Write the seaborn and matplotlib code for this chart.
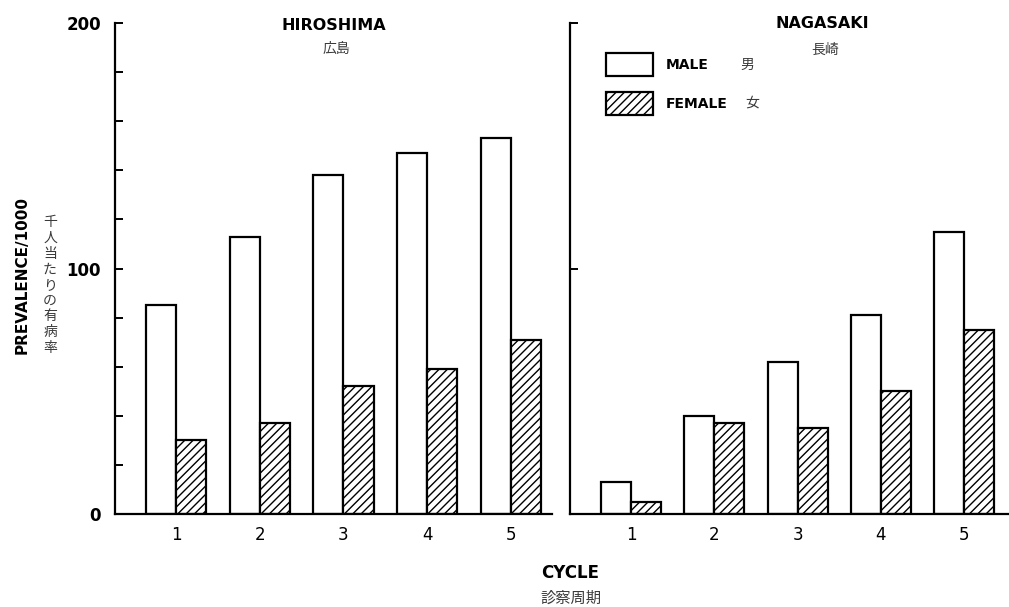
import matplotlib
matplotlib.use("Agg")
import matplotlib.pyplot as plt
import pandas as pd
import seaborn as sns
from matplotlib.patches import Patch
from matplotlib.ticker import MultipleLocator

# ---------------------------------------------------------------------------
# Data (prevalence per 1000)
# ---------------------------------------------------------------------------
cycles = ["1", "2", "3", "4", "5"]
sexes = ["MALE", "FEMALE"]
hiroshima_male = [85, 113, 138, 147, 153]
hiroshima_female = [30, 37, 52, 59, 71]
nagasaki_male = [13, 40, 62, 81, 115]
nagasaki_female = [5, 37, 35, 50, 75]

LATIN = "DejaVu Sans"
CJK = "Noto Sans CJK JP"
JP_COLOR = "#3a3a3a"

W, H = 1009, 607


def long_frame(male, female):
    rows = []
    for c, m, f in zip(cycles, male, female):
        rows.append({"cycle": c, "sex": "MALE", "value": m})
        rows.append({"cycle": c, "sex": "FEMALE", "value": f})
    return pd.DataFrame(rows)


def px(x, y):
    """Pixel position (from top-left) -> figure fraction."""
    return x / W, 1 - y / H


sns.set_theme(style="white")
plt.rcParams["font.family"] = [LATIN, CJK]
plt.rcParams["hatch.linewidth"] = 1.0
for key in ("text.color", "axes.labelcolor", "xtick.color", "ytick.color",
            "axes.edgecolor"):
    plt.rcParams[key] = "black"

fig = plt.figure(figsize=(W / 100, H / 100), dpi=100)
fig.patch.set_facecolor("white")

# axes boxes in pixels: left spine x, right end x, top y, bottom y
ax_h = fig.add_axes([115 / W, 1 - 514 / H, (552 - 115) / W, (514 - 23) / H])
ax_n = fig.add_axes([570 / W, 1 - 514 / H, (1009 - 570) / W, (514 - 23) / H])


def draw_panel(ax, male, female, xlim):
    df = long_frame(male, female)
    sns.barplot(
        data=df, x="cycle", y="value", hue="sex", hue_order=sexes,
        palette={"MALE": "white", "FEMALE": "white"},
        edgecolor="black", linewidth=1.6, width=0.72, saturation=1,
        legend=False, ax=ax,
    )
    for bar in ax.containers[1]:
        bar.set_hatch("////")
    ax.set_xlim(*xlim)
    ax.set_ylim(0, 200)
    ax.set_xlabel("")
    ax.set_ylabel("")
    ax.set_facecolor("none")
    for side in ("top", "right"):
        ax.spines[side].set_visible(False)
    for side in ("left", "bottom"):
        ax.spines[side].set_linewidth(1.6)
    ax.tick_params(axis="x", length=0, pad=9, labelsize=12)


draw_panel(ax_h, hiroshima_male, hiroshima_female, (-0.728, 4.49))
draw_panel(ax_n, nagasaki_male, nagasaki_female, (-0.733, 4.54))

# Hiroshima y axis: inward ticks every 20, labels at 0/100/200
ax_h.yaxis.set_major_locator(MultipleLocator(100))
ax_h.yaxis.set_minor_locator(MultipleLocator(20))
ax_h.tick_params(axis="y", which="both", direction="in", length=6, width=1.4,
                 left=True)
ax_h.tick_params(axis="y", which="major", labelsize=12, pad=10)
for lab in ax_h.get_yticklabels():
    lab.set_fontweight("bold")

# Nagasaki y axis: only 100 and 200 marks, no labels
ax_n.set_yticks([100, 200])
ax_n.tick_params(axis="y", direction="in", length=6, width=1.4, left=True,
                 labelleft=False)

# titles
fig.text(*px(334, 25), "HIROSHIMA", ha="center", va="center",
         fontsize=11.5, fontweight="bold", family=LATIN)
fig.text(*px(336, 49), "広島", ha="center", va="center",
         fontsize=10, color=JP_COLOR, family=CJK)
fig.text(*px(822, 24), "NAGASAKI", ha="center", va="center",
         fontsize=11.5, fontweight="bold", family=LATIN)
fig.text(*px(825, 50), "長崎", ha="center", va="center",
         fontsize=10, color=JP_COLOR, family=CJK)

# legend
handles = [
    Patch(facecolor="white", edgecolor="black", linewidth=1.6),
    Patch(facecolor="white", edgecolor="black", linewidth=1.6, hatch="////"),
]
ax_n.legend(
    handles, sexes, loc="upper left", bbox_to_anchor=px(606, 53),
    bbox_transform=fig.transFigure, frameon=False, borderpad=0,
    borderaxespad=0, handlelength=3.4, handleheight=2.2, handletextpad=0.9,
    labelspacing=1.1, prop={"weight": "bold", "size": 10, "family": LATIN},
)
fig.text(*px(747, 65), "男", ha="center", va="center",
         fontsize=10, color=JP_COLOR, family=CJK)
fig.text(*px(752, 103), "女", ha="center", va="center",
         fontsize=10, color=JP_COLOR, family=CJK)

# y axis label
fig.text(*px(22, 275), "PREVALENCE/1000", rotation=90, ha="center", va="center",
         fontsize=11, fontweight="bold", family=LATIN)
fig.text(*px(50, 285), "\n".join("千人当たりの有病率"), ha="center", va="center",
         fontsize=10, color=JP_COLOR, family=CJK, linespacing=1.15)

# x axis label
fig.text(*px(570, 573), "CYCLE", ha="center", va="center",
         fontsize=12, fontweight="bold", family=LATIN)
fig.text(*px(571, 598), "診察周期", ha="center", va="center",
         fontsize=11, color=JP_COLOR, family=CJK)

fig.savefig("out.png", dpi=100, facecolor="white")
